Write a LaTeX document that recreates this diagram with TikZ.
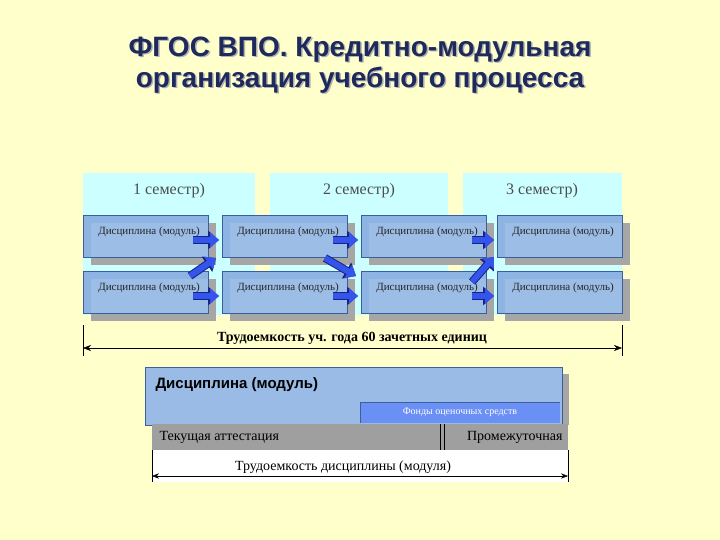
\documentclass[tikz,border=0pt]{standalone}
\usepackage{fontspec}
\setmainfont{Liberation Serif}
\newfontfamily\titlefont{Liberation Sans}
\usetikzlibrary{arrows.meta}
\definecolor{bgc}{HTML}{FFFFCC}
\definecolor{semc}{HTML}{CCFFFF}
\definecolor{discc}{HTML}{8EB4E3}
\definecolor{discb}{HTML}{3A5F9A}
\definecolor{arrc}{HTML}{3355EE}
\definecolor{arrd}{HTML}{1A237E}
\definecolor{titc}{HTML}{1F2A5C}
\definecolor{fondc}{HTML}{6A8FF5}
\definecolor{bigc}{HTML}{99BBE6}
\begin{document}
\begin{tikzpicture}[x=1pt,y=-1pt,
  sem/.style={fill=semc,draw=none},
  shad/.style={fill=gray!70,draw=none},
  barro/.style={line width=8pt,draw=arrd,-{Triangle[length=11pt,width=18pt]}},
  barr/.style={line width=6pt,draw=arrc,-{Triangle[length=9pt,width=15pt]}}]
\useasboundingbox (0,0) rectangle (720,540);
\fill[bgc] (0,0) rectangle (720,540);
% title
\foreach \o/\c in {1.5/gray!60,0/titc}{
\node[font=\titlefont\bfseries\fontsize{28}{31}\selectfont,text=\c,align=center] (t\o) at (360+\o,65+\o) {ФГОС ВПО. Кредитно-модульная\\организация учебного процесса};}
% semesters
\fill[sem] (83,173) rectangle (255,315);
\fill[sem] (270,173) rectangle (448,315);
\fill[sem] (463,173) rectangle (622,315);
\node[font=\fontsize{16}{18}\selectfont,text=black!70] (s1) at (169,191) {1 семестр)};
\node[font=\fontsize{16}{18}\selectfont,text=black!70] (s2) at (359,191) {2 семестр)};
\node[font=\fontsize{16}{18}\selectfont,text=black!70] (s3) at (542,191) {3 семестр)};
% discipline boxes
\foreach \r/\y in {1/215,2/271}{
 \foreach \c/\x in {1/83,2/222,3/361,4/497}{
  \fill[shad] (\x+8,\y+8) rectangle (\x+133,\y+50);
  \fill[discc] (\x,\y) rectangle (\x+125,\y+42);
  \fill[white,opacity=0.12] (\x+8,\y+8) rectangle (\x+125,\y+42);
  \draw[discb,line width=0.6pt] (\x,\y) rectangle (\x+125,\y+42);
  \node[font=\fontsize{11}{12}\selectfont,text=black!85] (d\r\c) at (\x+66,\y+17) {Дисциплина (модуль)};
 }}
% arrows
\foreach \s in {barro,barr}{
\foreach \y in {240,296}{
 \draw[\s] (193,\y) -- (219,\y);
 \draw[\s] (333,\y) -- (358,\y);
 \draw[\s] (472,\y) -- (494,\y);}
\draw[\s] (190,276) -- (216,258);
\draw[\s] (325,258) -- (356,276);
\draw[\s] (472,282) -- (494,257);}
% year dimension
\draw (83,325) -- (83,356);
\draw (622,325) -- (622,356);
\coordinate (ya) at (83,348); \coordinate (yb) at (622,348);
\draw[{Stealth[length=8pt]}-{Stealth[length=8pt]}] (ya) -- (yb);
\node[font=\bfseries\fontsize{14}{15}\selectfont] (yl) at (352,338) {Трудоемкость уч. года 60 зачетных единиц};
% bottom block
\fill[shad] (152,374) rectangle (569,425);
\fill[bigc] (145,367) rectangle (562,425);
\draw[discb,line width=0.6pt] (145,367) rectangle (562,425);
\node[anchor=west,font=\titlefont\bfseries\fontsize{15}{16}\selectfont] (bd) at (152,385) {Дисциплина (модуль)};
\fill[fondc] (360,402) rectangle (560,423);
\draw[discb] (360,423) -- (360,402) -- (560,402);
\node[text=white,font=\fontsize{10}{11}\selectfont] (fo) at (460,412) {Фонды оценочных средств};
\fill[gray!75] (152,424) rectangle (568,450);
\draw[line width=1pt] (440,424) -- (440,451);
\draw[line width=1pt] (444,424) -- (444,451);
\node[anchor=west,font=\fontsize{14}{15}\selectfont] (ta) at (156,437) {Текущая аттестация};
\node[anchor=east,font=\fontsize{14}{15}\selectfont] (pa) at (566,437) {Промежуточная};
\fill[white] (152,450) rectangle (568,482);
\draw (152,450) -- (152,482);
\draw (568,450) -- (568,482);
\coordinate (da) at (152,476); \coordinate (db) at (568,476);
\draw[{Stealth[length=7pt]}-{Stealth[length=7pt]}] (da) -- (db);
\node[font=\fontsize{14}{15}\selectfont] (dl) at (343,467) {Трудоемкость дисциплины (модуля)};
\end{tikzpicture}
\end{document}
